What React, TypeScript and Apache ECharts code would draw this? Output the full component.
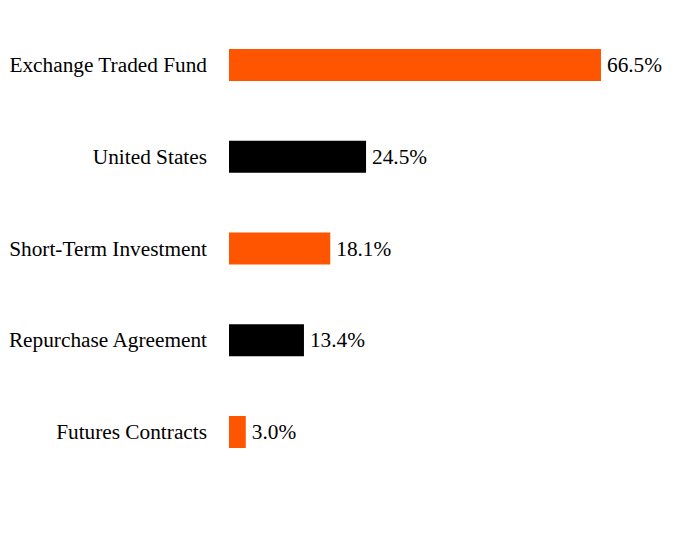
import React, { useEffect, useRef } from "react";
import * as echarts from "echarts";

const categories = [
  "Exchange Traded Fund",
  "United States",
  "Short-Term Investment",
  "Repurchase Agreement",
  "Futures Contracts",
];
const values = [66.5, 24.5, 18.1, 13.4, 3.0];
const barColors = ["#FF5500", "#000000", "#FF5500", "#000000", "#FF5500"];
const FONT = "'Liberation Serif', 'Times New Roman', serif";

export default function App() {
  const ref = useRef<HTMLDivElement>(null);
  useEffect(() => {
    document.body.style.margin = "0";
    if (!ref.current) return;
    const chart = echarts.init(ref.current, null, { renderer: "svg" });
    chart.setOption({
      animation: false,
      backgroundColor: "#ffffff",
      grid: { left: 229, top: 19, width: 447.5, height: 459, containLabel: false },
      xAxis: {
        type: "value",
        min: 0,
        max: 80,
        show: false,
      },
      yAxis: {
        type: "category",
        data: categories,
        inverse: true,
        axisLine: { show: false },
        axisTick: { show: false },
        splitLine: { show: false },
        axisLabel: {
          margin: 22,
          fontFamily: FONT,
          fontSize: 21.3,
          color: "#000000",
        },
      },
      series: [
        {
          type: "bar",
          barWidth: 32,
          data: values.map((v, i) => ({ value: v, itemStyle: { color: barColors[i] } })),
          label: {
            show: true,
            position: "right",
            distance: 6,
            formatter: (p: any) => p.value.toFixed(1) + "%",
            fontFamily: FONT,
            fontSize: 21.3,
            color: "#000000",
          },
        },
      ],
    });
    return () => chart.dispose();
  }, []);
  return <div ref={ref} style={{ width: 696, height: 540 }} />;
}
